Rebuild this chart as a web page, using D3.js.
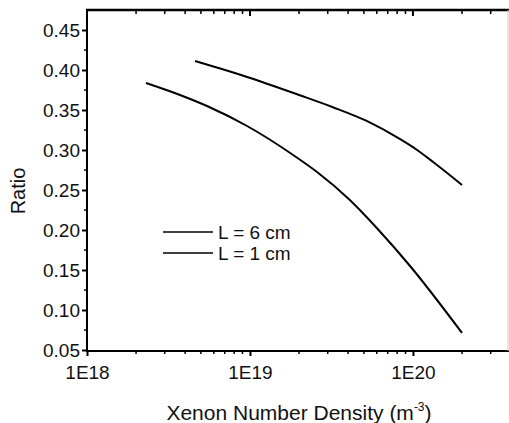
<!DOCTYPE html>
<html><head><meta charset="utf-8">
<script src="https://cdn.jsdelivr.net/npm/d3@7"></script>
<style>
html,body{margin:0;padding:0;background:#fff;}
svg{display:block;font-family:"Liberation Sans",Arial,sans-serif;}
</style></head>
<body>
<svg id="chart" width="509" height="423"></svg>
<script>
// ---- data ----
const seriesNames = ["L = 6 cm", "L = 1 cm"];
const densityL6 = [4.6e18, 6.4e18, 9.6e18, 2.0e19, 3.2e19, 5.2e19, 8.3e19, 1.06e20, 1.33e20, 2.0e20];
const ratioL6   = [0.4113, 0.4025, 0.3913, 0.3688, 0.3538, 0.3363, 0.3138, 0.300, 0.285, 0.2563];
const densityL1 = [2.3e18, 3.72e18, 5.45e18, 9.6e18, 1.84e19, 2.58e19, 4.1e19, 6.0e19, 9.6e19, 2.0e20];
const ratioL1   = [0.3838, 0.3688, 0.355, 0.330, 0.2938, 0.2725, 0.2375, 0.2025, 0.155, 0.0713];
const yTicks = [0.05, 0.10, 0.15, 0.20, 0.25, 0.30, 0.35, 0.40, 0.45];
const xTicks = [1e18, 1e19, 1e20];
const xTickLabels = ["1E18", "1E19", "1E20"];

(function(){
const svg = d3.select("#chart");
const pL = 87, pR = 508, pT = 10, pB = 350;
const x = d3.scaleLog().domain([1e18, 3.83e20]).range([pL, pR]);
const y = d3.scaleLinear().domain([0.05, 0.475]).range([pB, pT]);

const xMinor = [];
for (let e = 18; e <= 20; e++) for (let m = 2; m <= 9; m++) { const v = m * Math.pow(10, e); if (v <= 3.83e20) xMinor.push(v); }
const yMinor = d3.range(0.075, 0.475, 0.05);

// bottom axis
const gx = svg.append("g").attr("transform", `translate(0,${pB})`)
  .call(d3.axisBottom(x).tickValues(xTicks).tickFormat((d,i)=>xTickLabels[i]).tickSize(6).tickPadding(10).tickSizeOuter(0));
gx.select(".domain").remove();
gx.selectAll(".tick line").attr("stroke","#000").attr("stroke-width",2);
gx.selectAll(".tick text").attr("font-size","19px").attr("fill","#111").attr("font-family","'Liberation Sans',Arial,sans-serif");
svg.append("g").selectAll("line").data(xMinor).join("line")
  .attr("x1",d=>x(d)).attr("x2",d=>x(d)).attr("y1",pB).attr("y2",pB+4)
  .attr("stroke","#000").attr("stroke-width",1.5);

// top axis ticks (inward)
svg.append("g").selectAll("line").data(xTicks).join("line")
  .attr("x1",d=>x(d)).attr("x2",d=>x(d)).attr("y1",pT).attr("y2",pT+6)
  .attr("stroke","#000").attr("stroke-width",2);
svg.append("g").selectAll("line").data(xMinor).join("line")
  .attr("x1",d=>x(d)).attr("x2",d=>x(d)).attr("y1",pT).attr("y2",pT+4)
  .attr("stroke","#000").attr("stroke-width",1.5);

// left axis
const gy = svg.append("g").attr("transform", `translate(${pL},0)`)
  .call(d3.axisLeft(y).tickValues(yTicks).tickFormat(d3.format(".2f")).tickSize(5).tickPadding(2).tickSizeOuter(0));
gy.select(".domain").remove();
gy.selectAll(".tick line").attr("stroke","#000").attr("stroke-width",2);
gy.selectAll(".tick text").attr("font-size","19px").attr("fill","#111").attr("font-family","'Liberation Sans',Arial,sans-serif");
svg.append("g").selectAll("line").data(yMinor).join("line")
  .attr("x1",pL-3).attr("x2",pL).attr("y1",d=>y(d)).attr("y2",d=>y(d))
  .attr("stroke","#000").attr("stroke-width",1.5);

// frame
svg.append("line").attr("x1",pL).attr("x2",pL).attr("y1",pT).attr("y2",pB+1).attr("stroke","#000").attr("stroke-width",2);
svg.append("line").attr("x1",pL-1).attr("x2",pR+1).attr("y1",pB+1).attr("y2",pB+1).attr("stroke","#000").attr("stroke-width",2);
svg.append("line").attr("x1",pL-1).attr("x2",pR+1).attr("y1",pT).attr("y2",pT).attr("stroke","#000").attr("stroke-width",2.5);
svg.append("line").attr("x1",pR).attr("x2",pR).attr("y1",pT).attr("y2",pB+1).attr("stroke","#ccc").attr("stroke-width",1);

// curves
const line = d3.line().x(d=>x(d[0])).y(d=>y(d[1])).curve(d3.curveMonotoneX);
const series = [d3.zip(densityL6, ratioL6), d3.zip(densityL1, ratioL1)];
svg.append("g").selectAll("path").data(series).join("path")
  .attr("d", line).attr("fill","none").attr("stroke","#000").attr("stroke-width",2);

// legend
const lg = svg.append("g");
seriesNames.forEach((name,i)=>{
  const yy = 232 + i*21;
  lg.append("line").attr("x1",163).attr("x2",213).attr("y1",yy).attr("y2",yy).attr("stroke","#000").attr("stroke-width",1.5);
  lg.append("text").attr("x",218).attr("y",yy+7).attr("font-size","19px").attr("fill","#111").text(name);
});

// axis titles
const xt = svg.append("text").attr("x",299).attr("y",420).attr("text-anchor","middle").attr("font-size","21px").attr("fill","#111");
xt.append("tspan").text("Xenon Number Density (m");
xt.append("tspan").attr("dy",-9).attr("font-size","12px").text("-3");
xt.append("tspan").attr("dy",9).text(")");
svg.append("text").attr("transform","translate(25,191) rotate(-90)").attr("text-anchor","middle")
  .attr("font-size","20px").attr("fill","#111").text("Ratio");
})();
</script>
</body></html>
